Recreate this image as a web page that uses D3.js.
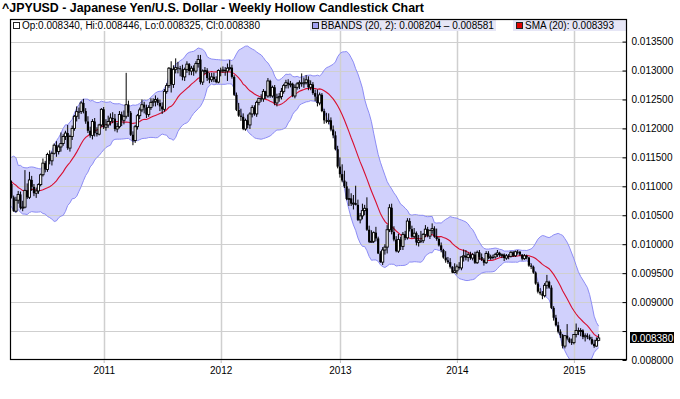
<!DOCTYPE html>
<html><head><meta charset="utf-8">
<script src="https://cdn.jsdelivr.net/npm/d3@7"></script>
<style>
body{margin:0;background:#fff}
svg{display:block}
text{font-family:"Liberation Sans",Arial,sans-serif}
</style>
</head><body>
<svg id="c" width="680" height="399"></svg>
<script>
// ---------------- DATA ----------------
const title = "^JPYUSD - Japanese Yen/U.S. Dollar - Weekly Hollow Candlestick Chart";
const firstWeek = "2010-03-22";           // Monday of first plotted weekly bar
// 19 weekly closes before the first plotted bar (needed for the 20-week SMA / BBANDS)
const priorCloses = [0.01120,0.01130,0.01165,0.01110,0.01125,0.01105,0.01090,0.01065,0.01078,0.01100,0.01108,0.01110,0.01125,0.01115,0.01092,0.01125,0.01108,0.01100,0.01104];

const opens = [
0.01104,0.01081,0.01057,0.01076,0.01086,0.01063,0.01064,0.01093,0.01081,0.01111,
0.01099,0.01088,0.01092,0.01103,0.01120,0.01140,0.01129,0.01155,0.01144,0.01157,
0.01171,0.01160,0.01168,0.01174,0.01186,0.01192,0.01166,0.01186,0.01200,0.01221,
0.01229,0.01229,0.01244,0.01230,0.01212,0.01196,0.01188,0.01212,0.01192,0.01190,
0.01206,0.01233,0.01202,0.01206,0.01212,0.01218,0.01217,0.01199,0.01203,0.01224,
0.01214,0.01221,0.01241,0.01227,0.01189,0.01179,0.01203,0.01222,0.01232,0.01241,
0.01236,0.01224,0.01236,0.01245,0.01247,0.01250,0.01244,0.01238,0.01233,0.01264,
0.01274,0.01304,0.01276,0.01302,0.01305,0.01304,0.01302,0.01289,0.01302,0.01311,
0.01299,0.01304,0.01299,0.01312,0.01319,0.01280,0.01299,0.01300,0.01287,0.01284,
0.01289,0.01285,0.01280,0.01300,0.01300,0.01301,0.01299,0.01304,0.01305,0.01289,
0.01258,0.01232,0.01222,0.01220,0.01199,0.01214,0.01206,0.01225,0.01236,0.01225,
0.01245,0.01252,0.01251,0.01264,0.01256,0.01282,0.01256,0.01271,0.01244,0.01253,
0.01255,0.01264,0.01274,0.01279,0.01276,0.01277,0.01256,0.01271,0.01277,0.01279,
0.01277,0.01279,0.01284,0.01271,0.01276,0.01261,0.01255,0.01244,0.01258,0.01230,
0.01214,0.01212,0.01214,0.01198,0.01188,0.01164,0.01134,0.01121,0.01110,0.01100,
0.01078,0.01079,0.01070,0.01071,0.01068,0.01042,0.01049,0.01058,0.01062,0.01025,
0.01004,0.01005,0.01020,0.01010,0.00984,0.00969,0.00990,0.00995,0.01025,0.01063,
0.01021,0.01008,0.00988,0.01008,0.00996,0.01017,0.01011,0.01040,0.01026,0.01013,
0.01019,0.01003,0.01006,0.01006,0.01017,0.01026,0.01014,0.01024,0.01027,0.01013,
0.01009,0.00998,0.00990,0.00977,0.00972,0.00969,0.00961,0.00951,0.00954,0.00961,
0.00959,0.00978,0.00980,0.00977,0.00982,0.00976,0.00982,0.00968,0.00986,0.00978,
0.00973,0.00968,0.00984,0.00977,0.00978,0.00978,0.00982,0.00985,0.00981,0.00982,
0.00976,0.00980,0.00979,0.00986,0.00980,0.00987,0.00987,0.00982,0.00975,0.00980,
0.00977,0.00963,0.00961,0.00951,0.00932,0.00918,0.00915,0.00911,0.00929,0.00935,
0.00925,0.00890,0.00873,0.00860,0.00849,0.00843,0.00824,0.00842,0.00837,0.00831,
0.00830,0.00844,0.00851,0.00850,0.00851,0.00840,0.00842,0.00840,0.00836,0.00828,
0.00824,0.008340];

const highs = [
0.01110,0.01084,0.01082,0.01092,0.01091,0.01075,0.01128,0.01105,0.01125,0.01118,
0.01104,0.01098,0.01105,0.01122,0.01148,0.01144,0.01158,0.01162,0.01160,0.01174,
0.01178,0.01172,0.01193,0.01190,0.01196,0.01206,0.01189,0.01205,0.01223,0.01238,
0.01236,0.01247,0.01251,0.01235,0.01221,0.01203,0.01216,0.01218,0.01202,0.01208,
0.01235,0.01237,0.01216,0.01222,0.01226,0.01228,0.01225,0.01210,0.01230,0.01229,
0.01231,0.01296,0.01248,0.01230,0.01195,0.01206,0.01225,0.01236,0.01250,0.01246,
0.01241,0.01240,0.01252,0.01252,0.01257,0.01253,0.01250,0.01245,0.01268,0.01278,
0.01306,0.01316,0.01309,0.01321,0.01315,0.01308,0.01310,0.01305,0.01316,0.01313,
0.01308,0.01309,0.01316,0.01327,0.01327,0.01302,0.01306,0.01304,0.01296,0.01296,
0.01296,0.01290,0.01302,0.01305,0.01307,0.01306,0.01312,0.01318,0.01310,0.01292,
0.01262,0.01244,0.01234,0.01226,0.01217,0.01224,0.01228,0.01240,0.01240,0.01248,
0.01253,0.01259,0.01268,0.01265,0.01287,0.01284,0.01274,0.01275,0.01260,0.01261,
0.01270,0.01277,0.01284,0.01285,0.01282,0.01279,0.01276,0.01280,0.01283,0.01295,
0.01288,0.01292,0.01290,0.01283,0.01280,0.01267,0.01267,0.01262,0.01261,0.01234,
0.01227,0.01226,0.01219,0.01205,0.01195,0.01170,0.01150,0.01138,0.01127,0.01108,
0.01096,0.01088,0.01085,0.01101,0.01077,0.01054,0.01070,0.01068,0.01081,0.01032,
0.01024,0.01022,0.01030,0.01013,0.00988,0.00995,0.01000,0.01033,0.01069,0.01070,
0.01031,0.01014,0.01018,0.01013,0.01021,0.01023,0.01045,0.01045,0.01032,0.01028,
0.01022,0.01016,0.01023,0.01019,0.01033,0.01030,0.01025,0.01036,0.01031,0.01027,
0.01012,0.01003,0.00992,0.00988,0.00978,0.00976,0.00962,0.00967,0.00965,0.00969,
0.00979,0.00991,0.00990,0.00986,0.00987,0.00985,0.00987,0.00989,0.00990,0.00984,
0.00976,0.00988,0.00988,0.00982,0.00982,0.00985,0.00990,0.00987,0.00984,0.00984,
0.00983,0.00983,0.00988,0.00988,0.00989,0.00990,0.00988,0.00983,0.00983,0.00982,
0.00978,0.00967,0.00963,0.00953,0.00935,0.00924,0.00919,0.00933,0.00947,0.00937,
0.00929,0.00893,0.00878,0.00866,0.00853,0.00845,0.00843,0.00862,0.00839,0.00837,
0.00844,0.00863,0.00856,0.00855,0.00853,0.00846,0.00846,0.00844,0.00840,0.00835,
0.00839,0.008446];

const lows = [
0.01079,0.01056,0.01055,0.01070,0.01060,0.01057,0.01062,0.01078,0.01078,0.01092,
0.01083,0.01080,0.01087,0.01100,0.01117,0.01124,0.01125,0.01138,0.01136,0.01155,
0.01151,0.01155,0.01160,0.01170,0.01180,0.01163,0.01160,0.01180,0.01196,0.01212,
0.01216,0.01225,0.01226,0.01208,0.01192,0.01184,0.01181,0.01186,0.01186,0.01188,
0.01203,0.01199,0.01196,0.01201,0.01205,0.01209,0.01195,0.01193,0.01200,0.01204,
0.01207,0.01217,0.01220,0.01187,0.01171,0.01175,0.01198,0.01216,0.01228,0.01226,
0.01218,0.01220,0.01232,0.01238,0.01238,0.01240,0.01230,0.01225,0.01229,0.01260,
0.01270,0.01262,0.01270,0.01295,0.01295,0.01290,0.01283,0.01282,0.01296,0.01292,
0.01292,0.01291,0.01295,0.01305,0.01276,0.01275,0.01294,0.01282,0.01278,0.01280,
0.01280,0.01278,0.01278,0.01290,0.01296,0.01291,0.01282,0.01300,0.01286,0.01256,
0.01230,0.01220,0.01213,0.01197,0.01196,0.01200,0.01199,0.01219,0.01222,0.01220,
0.01240,0.01246,0.01246,0.01251,0.01253,0.01253,0.01253,0.01240,0.01238,0.01246,
0.01250,0.01260,0.01269,0.01269,0.01271,0.01254,0.01252,0.01267,0.01268,0.01272,
0.01270,0.01276,0.01266,0.01266,0.01258,0.01247,0.01238,0.01240,0.01228,0.01208,
0.01209,0.01207,0.01195,0.01183,0.01162,0.01131,0.01115,0.01107,0.01097,0.01076,
0.01066,0.01066,0.01060,0.01067,0.01040,0.01036,0.01043,0.01050,0.01023,0.01002,
0.01003,0.01002,0.01005,0.00983,0.00968,0.00964,0.00982,0.00984,0.01021,0.01017,
0.01005,0.00986,0.00985,0.00990,0.00990,0.01007,0.01008,0.01022,0.01011,0.01010,
0.00998,0.00996,0.01002,0.01002,0.01012,0.01012,0.01009,0.01018,0.01011,0.01006,
0.00996,0.00986,0.00975,0.00968,0.00966,0.00958,0.00950,0.00950,0.00948,0.00956,
0.00955,0.00970,0.00972,0.00970,0.00973,0.00972,0.00966,0.00966,0.00973,0.00971,
0.00963,0.00966,0.00974,0.00973,0.00974,0.00975,0.00978,0.00978,0.00976,0.00971,
0.00973,0.00974,0.00977,0.00978,0.00978,0.00982,0.00980,0.00972,0.00973,0.00974,
0.00961,0.00957,0.00949,0.00930,0.00915,0.00912,0.00905,0.00908,0.00923,0.00923,
0.00888,0.00868,0.00858,0.00846,0.00838,0.00820,0.00820,0.00834,0.00829,0.00826,
0.00827,0.00839,0.00843,0.00841,0.00836,0.00832,0.00836,0.00834,0.00826,0.00821,
0.00823,0.008325];

const closes = [
0.01081,0.01057,0.01076,0.01086,0.01063,0.01064,0.01093,0.01081,0.01111,0.01099,
0.01088,0.01092,0.01103,0.01120,0.01140,0.01129,0.01155,0.01144,0.01157,0.01171,
0.01160,0.01168,0.01174,0.01186,0.01192,0.01166,0.01186,0.01200,0.01221,0.01229,
0.01229,0.01244,0.01230,0.01212,0.01196,0.01188,0.01212,0.01192,0.01190,0.01206,
0.01233,0.01202,0.01206,0.01212,0.01218,0.01217,0.01199,0.01203,0.01224,0.01214,
0.01221,0.01241,0.01227,0.01189,0.01179,0.01203,0.01222,0.01232,0.01241,0.01236,
0.01224,0.01236,0.01245,0.01247,0.01250,0.01244,0.01238,0.01233,0.01264,0.01274,
0.01304,0.01276,0.01302,0.01305,0.01304,0.01302,0.01289,0.01302,0.01311,0.01299,
0.01304,0.01299,0.01312,0.01319,0.01280,0.01299,0.01300,0.01287,0.01284,0.01289,
0.01285,0.01280,0.01300,0.01300,0.01301,0.01299,0.01304,0.01305,0.01289,0.01258,
0.01232,0.01222,0.01220,0.01199,0.01214,0.01206,0.01225,0.01236,0.01225,0.01245,
0.01252,0.01251,0.01264,0.01256,0.01282,0.01256,0.01271,0.01244,0.01253,0.01255,
0.01264,0.01274,0.01279,0.01276,0.01277,0.01256,0.01271,0.01277,0.01279,0.01277,
0.01279,0.01284,0.01271,0.01276,0.01261,0.01255,0.01244,0.01258,0.01230,0.01214,
0.01212,0.01214,0.01198,0.01188,0.01164,0.01134,0.01121,0.01110,0.01100,0.01078,
0.01079,0.01070,0.01071,0.01068,0.01042,0.01049,0.01058,0.01062,0.01025,0.01004,
0.01005,0.01020,0.01010,0.00984,0.00969,0.00990,0.00995,0.01025,0.01063,0.01021,
0.01008,0.00988,0.01008,0.00996,0.01017,0.01011,0.01040,0.01026,0.01013,0.01019,
0.01003,0.01006,0.01006,0.01017,0.01026,0.01014,0.01024,0.01027,0.01013,0.01009,
0.00998,0.00990,0.00977,0.00972,0.00969,0.00961,0.00951,0.00954,0.00961,0.00959,
0.00978,0.00980,0.00977,0.00982,0.00976,0.00982,0.00968,0.00986,0.00978,0.00973,
0.00968,0.00984,0.00977,0.00978,0.00978,0.00982,0.00985,0.00981,0.00982,0.00976,
0.00980,0.00979,0.00986,0.00980,0.00987,0.00987,0.00982,0.00975,0.00980,0.00977,
0.00963,0.00961,0.00951,0.00932,0.00918,0.00915,0.00911,0.00929,0.00935,0.00925,
0.00890,0.00873,0.00860,0.00849,0.00843,0.00824,0.00842,0.00837,0.00831,0.00830,
0.00844,0.00851,0.00850,0.00851,0.00840,0.00842,0.00840,0.00836,0.00828,0.00824,
0.00834,0.008380];

const yTicks = [0.0080,0.0085,0.0090,0.0095,0.0100,0.0105,0.0110,0.0115,0.0120,0.0125,0.0130,0.0135];
const legendOHLC = "Op:0.008340, Hi:0.008446, Lo:0.008325, Cl:0.008380";
const legendBB = "BBANDS (20, 2): 0.008204 \u2013 0.008581";
const legendSMA = "SMA (20): 0.008393";
const lastCloseLabel = "0.008380";
const smaPeriod = 20, bbWidth = 2;

// ---------------- LAYOUT ----------------
const L = 10, R = 627, T = 19, B = 360;
const svg = d3.select("#c");
const n = closes.length;
const start = d3.timeParse("%Y-%m-%d")(firstWeek);
const dates = d3.range(n).map(j => d3.timeDay.offset(start, 7 * j));

const x = d3.scaleLinear().domain([-0.64, n - 1 + 12.6]).range([L, R]);
const y = d3.scaleLinear().domain([0.008, 0.01389]).range([B, T]);

// indicators
const all = priorCloses.concat(closes);
const sma = [], upper = [], lower = [];
for (let j = 0; j < n; j++) {
  const w = all.slice(j, j + smaPeriod);
  const m = d3.mean(w);
  const sd = Math.sqrt(d3.mean(w, v => (v - m) * (v - m)));
  sma.push(m); upper.push(m + bbWidth * sd); lower.push(m - bbWidth * sd);
}

// year starts
const yearStarts = [];
dates.forEach((d, j) => { if (j > 0 && d.getFullYear() !== dates[j - 1].getFullYear()) yearStarts.push(j); });

// title
svg.append("text").attr("x", 2).attr("y", 12).attr("font-size", 12.4).attr("font-weight", "bold").text(title);

// plot background
svg.append("rect").attr("x", L).attr("y", T).attr("width", R - L).attr("height", B - T).attr("fill", "#fff");

svg.append("clipPath").attr("id", "pc").append("rect")
  .attr("x", L).attr("y", T).attr("width", R - L).attr("height", B - T);
const plot = svg.append("g").attr("clip-path", "url(#pc)");

// bollinger band
const idx = d3.range(n);
plot.append("path").datum(idx)
  .attr("d", d3.area().x(j => x(j)).y0(j => y(lower[j])).y1(j => y(upper[j])))
  .attr("fill", "#d0d0fc");
// gridlines
plot.append("g").selectAll("line").data(yTicks.filter(t => t > 0.008)).join("line")
  .attr("x1", L).attr("x2", R).attr("y1", d => Math.round(y(d)) + 0.5).attr("y2", d => Math.round(y(d)) + 0.5)
  .attr("stroke", "#cfcfcf").attr("stroke-width", 1);
plot.append("g").selectAll("line").data(yearStarts).join("line")
  .attr("x1", j => Math.round(x(j)) + 0.5).attr("x2", j => Math.round(x(j)) + 0.5).attr("y1", T).attr("y2", B)
  .attr("stroke", "#cfcfcf").attr("stroke-width", 1.5);
// band edges
[upper, lower].forEach(arr => {
  plot.append("path").datum(idx).attr("d", d3.line().x(j => x(j)).y(j => y(arr[j])))
    .attr("fill", "none").attr("stroke", "#8c8cf5").attr("stroke-width", 1);
});
// SMA
plot.append("path").datum(idx).attr("d", d3.line().x(j => x(j)).y(j => y(sma[j])))
  .attr("fill", "none").attr("stroke", "#d80f30").attr("stroke-width", 1.1);

// candles
const cg = plot.append("g");
idx.forEach(j => {
  const cx = x(j);
  const o = opens[j], c = closes[j];
  cg.append("line").attr("x1", cx).attr("x2", cx).attr("y1", y(highs[j])).attr("y2", y(lows[j]))
    .attr("stroke", "#000").attr("stroke-width", 1);
  const top = y(Math.max(o, c)), bot = y(Math.min(o, c));
  const h = Math.max(1, bot - top);
  if (c > o) {
    cg.append("rect").attr("x", cx - 1.1).attr("y", top).attr("width", 2.2).attr("height", h)
      .attr("fill", "#fff").attr("stroke", "#000").attr("stroke-width", 0.9);
  } else {
    cg.append("rect").attr("x", cx - 1.1).attr("y", top).attr("width", 2.2).attr("height", h).attr("fill", "#000");
  }
});

// legend row
svg.append("rect").attr("x", L).attr("y", T).attr("width", R - L).attr("height", 12).attr("fill", "#fff");
svg.append("rect").attr("x", 310).attr("y", T + 1).attr("width", 186).attr("height", 11).attr("fill", "#e6e6f6");
svg.append("rect").attr("x", 513).attr("y", T + 1).attr("width", 113).attr("height", 11).attr("fill", "#e6e6f6");
const legItems = [
  {x: 13, text: legendOHLC, fill: "#fff"},
  {x: 312, text: legendBB, fill: "#a0a0f0"},
  {x: 516, text: legendSMA, fill: "#e00000"}
];
legItems.forEach(it => {
  svg.append("rect").attr("x", it.x + 0.5).attr("y", 22.5).attr("width", 6).attr("height", 6)
    .attr("fill", it.fill).attr("stroke", "#222").attr("stroke-width", 1);
  svg.append("text").attr("x", it.x + 9).attr("y", 28.5).attr("font-size", 10).attr("fill", "#000").text(it.text);
});

// frame
svg.append("rect").attr("x", L + 0.5).attr("y", T + 0.5).attr("width", R - L - 1).attr("height", B - T - 1)
  .attr("fill", "none").attr("stroke", "#000").attr("stroke-width", 1.2);

// y axis (right)
const lastY = y(closes[n - 1]);
const yAxis = d3.axisRight(y).tickValues(yTicks).tickFormat(d3.format(".6f")).tickSize(-4).tickPadding(5);
const ya = svg.append("g").attr("transform", `translate(${R - 0.5},0)`).call(yAxis);
ya.select(".domain").remove();
ya.selectAll("text").attr("font-size", 10).attr("fill", "#000")
  .style("display", d => Math.abs(y(d) - lastY) < 11 ? "none" : null);
ya.selectAll("line").attr("stroke", "#000");
// last value marker
svg.append("rect").attr("x", R + 3).attr("y", lastY - 6).attr("width", 44).attr("height", 11).attr("fill", "#000");
svg.append("text").attr("x", R + 4.5).attr("y", lastY + 3.5).attr("font-size", 10).attr("fill", "#fff").text(lastCloseLabel);

// x axis
const xAxis = d3.axisBottom(x).tickValues(yearStarts).tickFormat(j => dates[j].getFullYear()).tickSize(3).tickPadding(4);
const xa = svg.append("g").attr("transform", `translate(0,${B})`).call(xAxis);
xa.select(".domain").remove();
xa.selectAll("line").attr("stroke", "#bbb");
xa.selectAll("text").attr("font-size", 10).attr("fill", "#000");
</script>
</body></html>
